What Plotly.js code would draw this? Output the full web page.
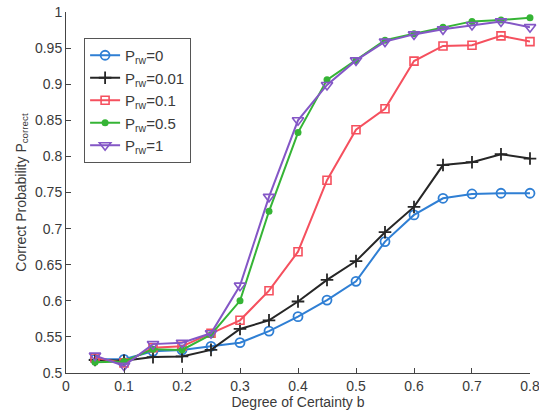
<!DOCTYPE html>
<html><head><meta charset="utf-8">
<script src="https://cdn.plot.ly/plotly-3.0.1.min.js"></script>
<style>html,body{margin:0;padding:0;background:#fff}#chart{width:539px;height:416px}</style>
</head><body><div id="chart"></div>
<script>
const b = [0.05,0.1,0.15,0.2,0.25,0.3,0.35,0.4,0.45,0.5,0.55,0.6,0.65,0.7,0.75,0.8];
const prw0    = [0.519,0.519,0.530,0.532,0.537,0.542,0.558,0.578,0.601,0.627,0.682,0.719,0.742,0.748,0.749,0.749];
const prw001  = [0.518,0.517,0.522,0.523,0.532,0.561,0.573,0.599,0.629,0.655,0.695,0.730,0.788,0.792,0.803,0.797];
const prw01   = [0.521,0.514,0.535,0.537,0.555,0.573,0.614,0.668,0.767,0.837,0.866,0.932,0.953,0.954,0.967,0.959];
const prw05   = [0.515,0.516,0.533,0.532,0.553,0.600,0.724,0.833,0.906,0.933,0.961,0.970,0.979,0.987,0.989,0.992];
const prw1    = [0.524,0.510,0.540,0.542,0.555,0.621,0.744,0.850,0.899,0.933,0.959,0.969,0.976,0.982,0.987,0.979];
const seriesNames = ['P<sub>rw</sub>=0','P<sub>rw</sub>=0.01','P<sub>rw</sub>=0.1','P<sub>rw</sub>=0.5','P<sub>rw</sub>=1'];
const xTicks = [0,0.1,0.2,0.3,0.4,0.5,0.6,0.7,0.8];
const xTickText = ['0','0.1','0.2','0.3','0.4','0.5','0.6','0.7','0.8'];
const yTicks = [0.5,0.55,0.6,0.65,0.7,0.75,0.8,0.85,0.9,0.95,1];
const yTickText = ['0.5','0.55','0.6','0.65','0.7','0.75','0.8','0.85','0.9','0.95','1'];

const styles = [
  {color:'#2f7fd4', marker:{symbol:'circle-open', size:9, line:{width:1.8}}},
  {color:'#262626', marker:{symbol:'cross-thin-open', size:9, line:{width:1.8}}},
  {color:'#f5505e', marker:{symbol:'square-open', size:8, line:{width:1.6}}},
  {color:'#35b435', marker:{symbol:'circle', size:7}},
  {color:'#8457c6', marker:{symbol:'triangle-down-open', size:10, line:{width:1.6}}}
];
const ys = [prw0, prw001, prw01, prw05, prw1];
const traces = ys.map((y,i)=>({
  x: b, y: y, name: seriesNames[i], type:'scatter', mode:'lines+markers', cliponaxis:false,
  line:{color:styles[i].color, width:2},
  marker:Object.assign({color:styles[i].color}, styles[i].marker)
}));

const ff = '"Liberation Sans", Arial, sans-serif';
const layout = {
  width:539, height:416,
  margin:{l:66, r:9, t:12, b:43},
  paper_bgcolor:'#fff', plot_bgcolor:'#fff',
  font:{family:ff, size:14, color:'#3a3a3a'},
  showlegend:true,
  legend:{x:0.039, y:0.928, xanchor:'left', yanchor:'top', bordercolor:'#555', borderwidth:1, bgcolor:'#fff',
          font:{family:ff, size:15, color:'#3a3a3a'}, tracegroupgap:0},
  xaxis:{range:[0,0.80001], tickvals:xTicks, ticktext:xTickText, ticks:'inside', ticklen:5, tickcolor:'#444',
         ticklabeloverflow:'allow',
         tickfont:{size:14}, showline:true, linecolor:'#444', linewidth:1, showgrid:false, zeroline:false,
         title:{text:'Degree of Certainty b', font:{size:14}, standoff:3}},
  yaxis:{range:[0.5,1.00001], tickvals:yTicks, ticktext:yTickText, ticks:'inside', ticklen:5, tickcolor:'#444',
         ticklabeloverflow:'allow',
         tickfont:{size:14}, showline:true, linecolor:'#444', linewidth:1, showgrid:false, zeroline:false,
         title:{text:'Correct Probability P<sub>correct</sub>', font:{size:14}, standoff:5}}
};
Plotly.newPlot('chart', traces, layout, {displayModeBar:false, staticPlot:true});
</script></body></html>
